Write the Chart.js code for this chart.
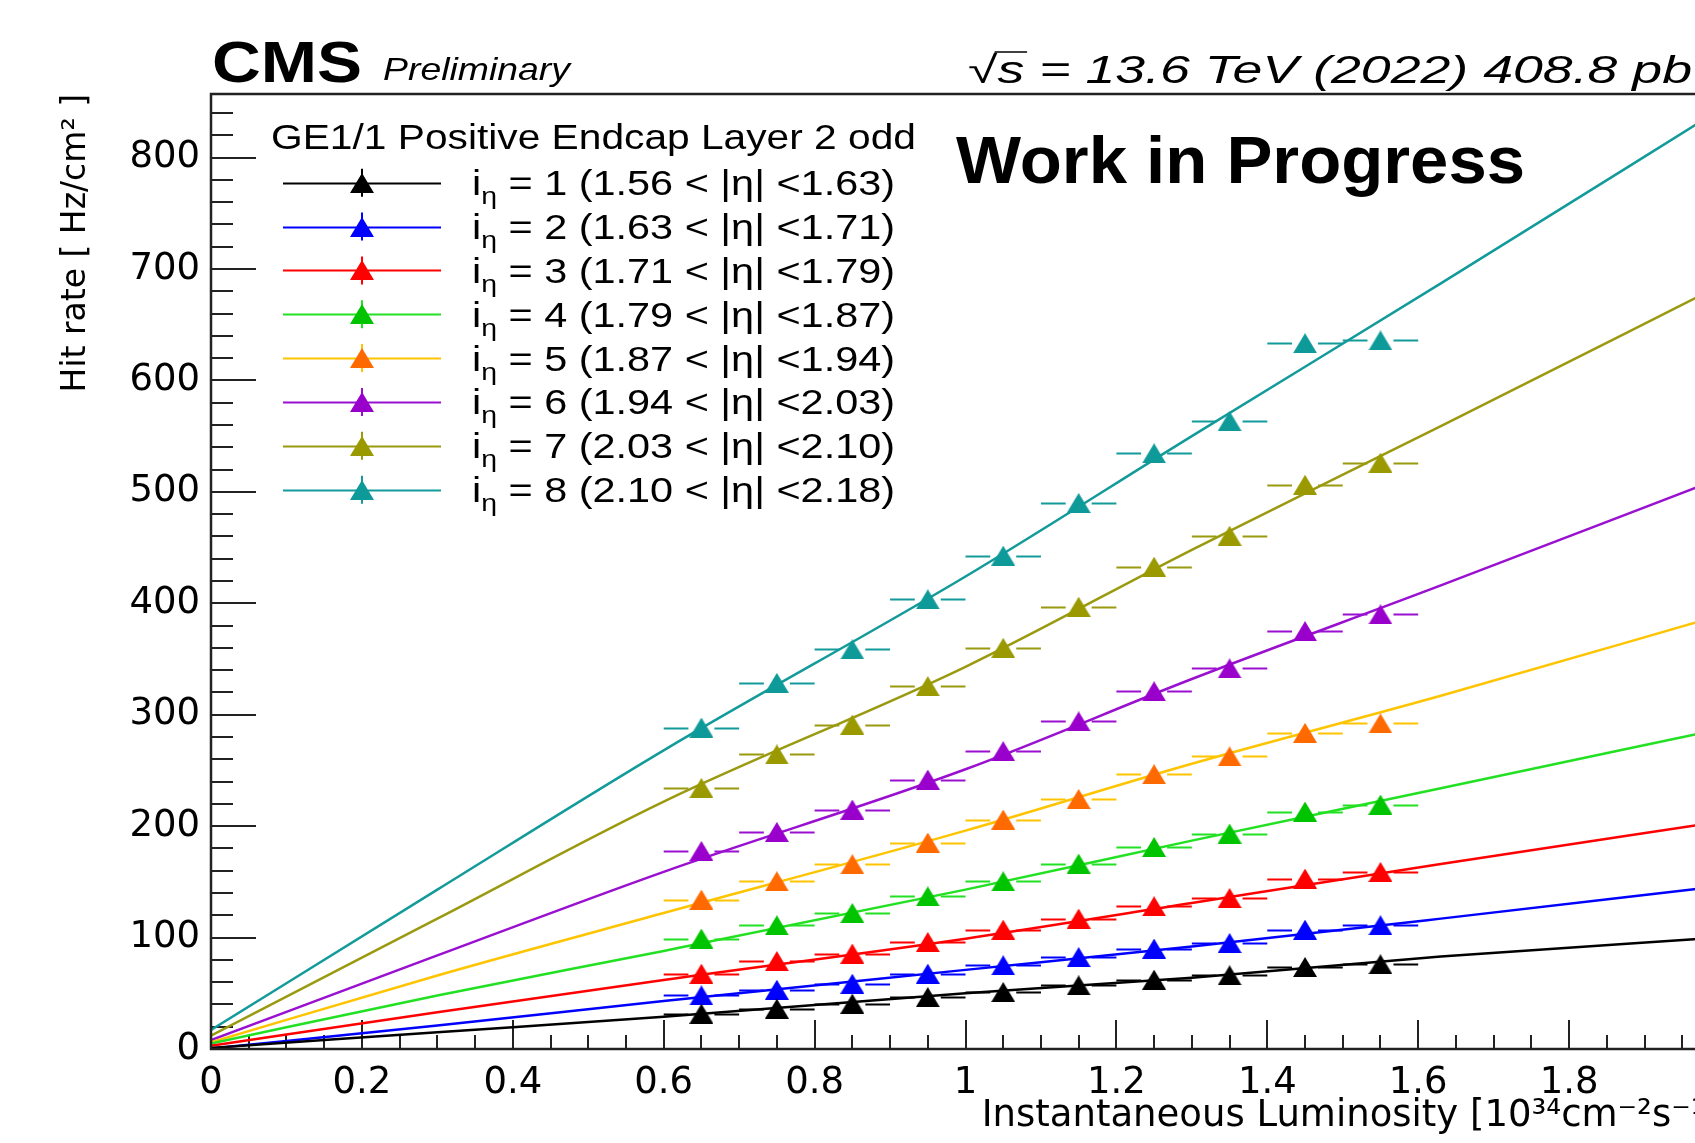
<!DOCTYPE html>
<html>
<head>
<meta charset="utf-8">
<script src="https://cdn.jsdelivr.net/npm/chart.js@4.4.1/dist/chart.umd.min.js"></script>
<style>
  html, body { margin: 0; padding: 0; overflow: hidden; background: #fff; width: 1695px; height: 1143px; }
  canvas { display: block; }
</style>
</head>
<body>
<!-- the frame runs a little past the right edge of the window, as in the original plot -->
<canvas id="hitRate" width="1760" height="1143"></canvas>
<script>
// ── data ────────────────────────────────────────────────────────────────
// luminosity bins (centre) and half bin width, 10^34 cm^-2 s^-1
const lumi = [0.65, 0.75, 0.85, 0.95, 1.05, 1.15, 1.25, 1.35, 1.45, 1.55];
const lumiErr = 0.05;

// measured hit rate per eta partition, Hz/cm^2
const rateEta1 = [31.7, 36.2, 40.7, 46.6, 51.1, 57.1, 62.2, 66.1, 73.6, 76.0];
const rateEta2 = [48.1, 53.2, 58.6, 67.6, 75.1, 82.5, 90.1, 95.1, 107.1, 111.0];
const rateEta3 = [67.6, 78.9, 85.6, 96.0, 107.1, 117.0, 128.1, 135.5, 152.9, 158.9];
const rateEta4 = [99.1, 111.0, 122.1, 137.0, 150.5, 166.4, 181.3, 193.3, 213.1, 219.4];
const rateEta5 = [134.1, 150.5, 165.8, 185.3, 205.9, 224.4, 246.6, 262.5, 283.7, 292.1];
const rateEta6 = [177.7, 194.8, 214.9, 241.8, 267.3, 294.0, 321.0, 341.5, 375.0, 390.0];
const rateEta7 = [234.3, 264.3, 291.2, 325.6, 360.0, 396.9, 432.8, 460.6, 506.4, 526.2];
const rateEta8 = [288.5, 328.6, 358.6, 403.5, 442.7, 490.0, 534.6, 563.4, 633.4, 635.8];

const fitLumi = [0, 0.3, 0.6, 1.0, 1.3, 1.63, 2.0];
const fitEta1 = [1, 15, 29, 50, 64, 83, 100];
const fitEta2 = [0.5, 21, 43, 71, 92, 117, 146];
const fitEta3 = [3, 33, 62, 99, 131, 166, 204];
const fitEta4 = [5, 48, 88, 143, 187, 234, 287];
const fitEta5 = [6, 66, 122, 196, 256, 317, 389];
const fitEta6 = [8, 84, 159, 251, 332, 416, 512];
const fitEta7 = [12, 117, 222, 343, 448, 559, 685];
const fitEta8 = [17, 143, 268, 424, 550, 687, 843];

// |eta| edges of the 8 partitions
const etaEdges = [1.56, 1.63, 1.71, 1.79, 1.87, 1.94, 2.03, 2.10, 2.18];

const rates = [rateEta1, rateEta2, rateEta3, rateEta4, rateEta5, rateEta6, rateEta7, rateEta8];
const fits  = [fitEta1, fitEta2, fitEta3, fitEta4, fitEta5, fitEta6, fitEta7, fitEta8];

// ── styles (ROOT-like colours) ──────────────────────────────────────────
const markerColors = ['#000000', '#0000ff', '#ff0000', '#00c400', '#ff6a00', '#9a00cc', '#9a9a00', '#0f9a9a'];
const lineColors   = ['#000000', '#0000ff', '#ff0000', '#22e022', '#ffc400', '#9a10d0', '#9a9a10', '#139a9a'];
const FRAME = '#222222';
const SANS = '"Liberation Sans", Arial, sans-serif';

Chart.defaults.font.family = "'DejaVu Sans', sans-serif";
Chart.defaults.color = '#000';

// filled upward triangle, centred on its box like ROOT marker 22
function triangle(color) {
  const c = document.createElement('canvas');
  c.width = 24; c.height = 20;
  const g = c.getContext('2d');
  g.fillStyle = color;
  g.beginPath();
  g.moveTo(0, 20); g.lineTo(24, 20); g.lineTo(12, 0);
  g.closePath(); g.fill();
  return c;
}
const markers = markerColors.map(triangle);

// text runs squeezed/stretched to the width they take in the original
function richText(ctx, segs, x, y, width) {
  let total = 0;
  segs.forEach(s => { ctx.font = s.f; s.w = ctx.measureText(s.t).width; total += s.w; });
  const k = width ? width / total : 1;
  ctx.save();
  ctx.translate(x, y);
  ctx.scale(k, 1);
  let cx = 0;
  segs.forEach(s => {
    ctx.font = s.f;
    ctx.fillText(s.t, cx, s.dy || 0);
    if (s.bar) {
      ctx.lineWidth = 1.5;
      ctx.beginPath();
      ctx.moveTo(cx - 2, -s.bar); ctx.lineTo(cx + s.w + 2, -s.bar);
      ctx.stroke();
    }
    cx += s.w;
  });
  ctx.restore();
  return x + total * k;
}

// ── datasets ────────────────────────────────────────────────────────────
const datasets = [];
rates.forEach((r, i) => {
  datasets.push({
    label: 'fit ' + (i + 1),
    data: fitLumi.map((x, j) => ({ x: x, y: fits[i][j] })),
    showLine: true,
    cubicInterpolationMode: 'monotone',
    borderColor: lineColors[i],
    borderWidth: 2.5,
    pointRadius: 0,
    order: 2
  });
  datasets.push({
    label: 'eta ' + (i + 1),
    data: lumi.map((x, j) => ({ x: x, y: r[j] })),
    showLine: false,
    pointStyle: markers[i],
    pointRadius: 12,
    errColor: lineColors[i],
    order: 1
  });
});

// ── ROOT style frame, inner ticks, x error bars and the text ────────────
const rootLook = {
  id: 'rootLook',
  beforeDatasetsDraw(chart) {
    const { ctx, chartArea: a, scales: { x, y } } = chart;
    ctx.save();
    ctx.strokeStyle = FRAME;
    ctx.lineWidth = 2;
    ctx.beginPath();
    for (let i = 0; i * 0.05 <= x.max + 1e-9; i++) {
      const px = Math.round(x.getPixelForValue(i * 0.05));
      ctx.moveTo(px, a.bottom);
      ctx.lineTo(px, a.bottom - (i % 4 === 0 ? 29 : 14));
    }
    for (let i = 0; i * 20 <= y.max; i++) {
      const py = Math.round(y.getPixelForValue(i * 20));
      ctx.moveTo(a.left, py);
      ctx.lineTo(a.left + (i % 5 === 0 ? 45 : 22), py);
    }
    ctx.stroke();
    ctx.restore();
  },
  afterDatasetsDraw(chart) {
    const { ctx, chartArea: a, scales: { x, y } } = chart;
    ctx.save();
    // horizontal error bars (bin width), with a gap round the marker
    ctx.lineWidth = 1.8;
    chart.data.datasets.forEach(ds => {
      if (!ds.errColor) return;
      ctx.strokeStyle = ds.errColor;
      ctx.beginPath();
      ds.data.forEach(p => {
        const cx = x.getPixelForValue(p.x);
        const py = Math.round(y.getPixelForValue(p.y)) + 0.5;
        ctx.moveTo(x.getPixelForValue(p.x - lumiErr), py); ctx.lineTo(cx - 13, py);
        ctx.moveTo(cx + 13, py); ctx.lineTo(x.getPixelForValue(p.x + lumiErr), py);
      });
      ctx.stroke();
    });
    // frame
    ctx.strokeStyle = FRAME;
    ctx.lineWidth = 2.5;
    ctx.strokeRect(a.left, a.top, a.right - a.left, a.bottom - a.top);
    ctx.restore();
  },
  afterDraw(chart) {
    const { ctx, chartArea: a } = chart;
    ctx.save();
    ctx.fillStyle = '#000';
    ctx.strokeStyle = '#000';
    ctx.textAlign = 'left';
    ctx.textBaseline = 'alphabetic';

    // CMS label and lumi text above the frame
    richText(ctx, [{ t: 'CMS', f: 'bold 57px ' + SANS }], a.left + 1, a.top - 12, 150);
    richText(ctx, [{ t: 'Preliminary', f: 'italic 32px ' + SANS }], 383, a.top - 14, 187);
    const it = 'italic 38px ' + SANS;
    const end = richText(ctx, [
      { t: '\u221A', f: it },
      { t: 's', f: it, bar: 31 },
      { t: ' = 13.6 TeV (2022) 408.8 pb', f: it }
    ], 968, a.top - 11, 724);
    richText(ctx, [{ t: '\u22121', f: 'italic 25px ' + SANS }], end + 2, a.top - 26);
    richText(ctx, [{ t: 'Work in Progress', f: 'bold 67px ' + SANS }], 956, 183, 569);

    // legend
    richText(ctx, [{ t: 'GE1/1 Positive Endcap Layer 2 odd', f: '35px ' + SANS }], 271, 149, 645);
    rates.forEach((r, i) => {
      const cy = 182.7 + i * 43.85;
      ctx.strokeStyle = lineColors[i];
      ctx.lineWidth = 2;
      ctx.beginPath();
      ctx.moveTo(283, Math.round(cy) + 0.5); ctx.lineTo(441, Math.round(cy) + 0.5);
      ctx.moveTo(362, cy - 14); ctx.lineTo(362, cy + 14);
      ctx.stroke();
      ctx.drawImage(markers[i], 350, Math.round(cy) - 10);
      ctx.fillStyle = '#000';
      richText(ctx, [
        { t: 'i', f: '35px ' + SANS },
        { t: '\u03B7', f: '24px ' + SANS, dy: 9 },
        { t: ' = ' + (i + 1) + ' (' + etaEdges[i].toFixed(2) + ' < |\u03B7| <' + etaEdges[i + 1].toFixed(2) + ')', f: '35px ' + SANS }
      ], 472, cy + 12.5, 423);
    });
    ctx.restore();
  }
};

new Chart(document.getElementById('hitRate'), {
  type: 'scatter',
  data: { datasets: datasets },
  options: {
    responsive: false,
    animation: false,
    devicePixelRatio: 1,
    events: [],
    layout: { padding: { left: 0, top: 94, right: 40, bottom: 0 } },
    plugins: { legend: { display: false }, tooltip: { enabled: false } },
    scales: {
      x: {
        type: 'linear',
        min: 0,
        max: 2,
        grid: { display: false, drawTicks: false },
        border: { display: false },
        ticks: {
          stepSize: 0.2,
          includeBounds: false,
          maxRotation: 0,
          autoSkip: false,
          padding: 12,
          font: { size: 37 },
          callback: v => String(Math.round(v * 10) / 10)
        },
        title: {
          display: true,
          text: 'Instantaneous Luminosity [10\u00B3\u2074cm\u207B\u00B2s\u207B\u00B9]',
          align: 'end',
          font: { size: 37 },
          padding: { top: 0, bottom: 4 }
        },
        afterFit: s => { s.height = 94; }
      },
      y: {
        type: 'linear',
        min: 0,
        max: 857,
        grid: { display: false, drawTicks: false },
        border: { display: false },
        ticks: {
          stepSize: 100,
          includeBounds: false,
          padding: 11,
          font: { size: 37 }
        },
        title: {
          display: true,
          text: 'Hit rate [ Hz/cm\u00B2 ]',
          align: 'end',
          font: { size: 33 },
          padding: { top: 57, bottom: 0 }
        },
        afterFit: s => { s.width = 211; }
      }
    }
  },
  plugins: [rootLook]
});
</script>
</body>
</html>
